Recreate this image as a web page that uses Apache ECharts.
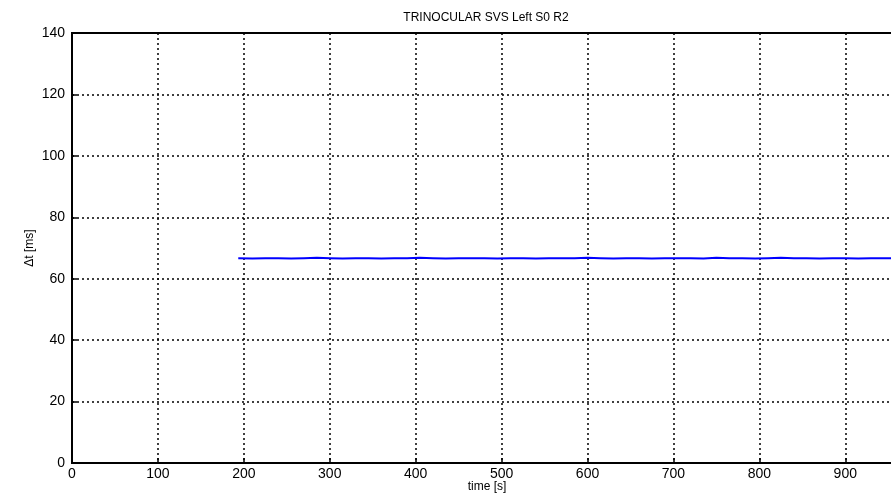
<!DOCTYPE html>
<html><head><meta charset="utf-8">
<script src="https://cdn.jsdelivr.net/npm/echarts@6/dist/echarts.min.js"></script>
<style>html,body{margin:0;padding:0;background:#fff}#c{width:891px;height:497px}</style>
</head><body><div id="c"></div>
<script>
const titleText = 'TRINOCULAR SVS Left S0 R2';
const xName = 'time [s]';
const yName = '\u0394t [ms]';
const times = [193.5,210,225,240,255,270,285,300,315,330,345,360,375,390,405,420,435,450,465,480,495,510,525,540,555,570,585,600,615,630,645,660,675,690,705,720,735,750,765,780,795,810,825,840,855,870,885,900,915,930,945,960];
const dtValues = [66.7,66.6,66.7,66.7,66.6,66.7,66.8,66.7,66.6,66.7,66.7,66.6,66.7,66.7,66.8,66.7,66.6,66.7,66.7,66.7,66.6,66.7,66.7,66.6,66.7,66.7,66.7,66.8,66.7,66.6,66.7,66.7,66.6,66.7,66.7,66.7,66.6,66.8,66.7,66.7,66.6,66.7,66.8,66.7,66.7,66.6,66.7,66.7,66.6,66.7,66.7,66.7];
const xTicks = [0,100,200,300,400,500,600,700,800,900];
const yTicks = [0,20,40,60,80,100,120,140];

const chart = echarts.init(document.getElementById('c'), null, {renderer:'canvas'});
const font = 'Liberation Sans, Arial, Helvetica, sans-serif';
chart.setOption({
  animation:false,
  title:{text:titleText,left:481,top:7,textAlign:'center',textStyle:{fontFamily:font,fontSize:12,fontWeight:'normal',color:'#000'}},
  grid:{left:72,width:830,top:33,height:430,outerBoundsMode:'none',containLabel:false,show:true,borderColor:'#000',borderWidth:2,backgroundColor:'#fff'},
  xAxis:{type:'value',min:0,max:966,interval:100,name:xName,nameLocation:'middle',nameGap:18,nameMoveOverlap:false,
    nameTextStyle:{fontFamily:font,fontSize:12,color:'#000'},
    axisLine:{show:true,lineStyle:{color:'#000',width:2}},
    axisTick:{show:true,inside:true,length:5,lineStyle:{color:'#000',width:1.5}},
    axisLabel:{fontFamily:font,fontSize:14,color:'#000',margin:4,showMaxLabel:false,
      formatter:v=>xTicks.includes(v)?String(v):''},
    splitLine:{show:true,lineStyle:{color:'#000',type:[2,3],width:1.5}}},
  yAxis:{type:'value',min:0,max:140,interval:20,name:yName,nameLocation:'middle',nameGap:36,nameRotate:90,nameMoveOverlap:false,
    nameTextStyle:{fontFamily:font,fontSize:12,color:'#000'},
    axisLine:{show:true,lineStyle:{color:'#000',width:2}},
    axisTick:{show:true,inside:true,length:5,lineStyle:{color:'#000',width:1.5}},
    axisLabel:{fontFamily:font,fontSize:14,color:'#000',margin:7,
      formatter:v=>yTicks.includes(v)?String(v):''},
    splitLine:{show:true,lineStyle:{color:'#000',type:[2,3],width:1.5}}},
  series:[{type:'line',data:times.map((t,i)=>[t,dtValues[i]]),showSymbol:false,
    lineStyle:{color:'#0000ff',width:2},itemStyle:{color:'#0000ff'},clip:true}]
});
</script></body></html>
